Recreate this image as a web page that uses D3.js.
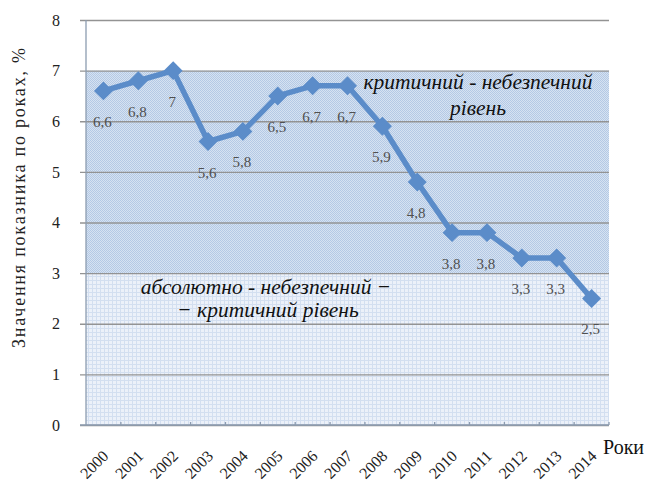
<!DOCTYPE html>
<html>
<head>
<meta charset="utf-8">
<script src="https://cdn.jsdelivr.net/npm/d3@7"></script>
<style>
  body { margin: 0; background: #fff; }
</style>
</head>
<body>
<script>
var years = ["2000", "2001", "2002", "2003", "2004", "2005", "2006", "2007",
             "2008", "2009", "2010", "2011", "2012", "2013", "2014"];
var values = [6.6, 6.8, 7, 5.6, 5.8, 6.5, 6.7, 6.7, 5.9, 4.8, 3.8, 3.8, 3.3, 3.3, 2.5];
var yTicks = [0, 1, 2, 3, 4, 5, 6, 7, 8];
// zones: [from, to]
var zoneCritical = [3, 7];
var zoneAbsolute = [0, 3];

var width = 658,
    height = 484;
var serif = '"Liberation Serif", "Times New Roman", serif';

var svg = d3.select('body')
    .append('svg')
    .attr('width', width)
    .attr('height', height)
    .attr('font-family', serif);

var plotLeft = 86, plotRight = 609, plotTop = 20, plotBottom = 425;

var x = d3.scaleBand()
    .domain(years)
    .range([plotLeft, plotRight]);

var y = d3.scaleLinear()
    .domain([0, 8])
    .range([plotBottom, plotTop]);

// fill patterns
var defs = svg.append('defs');
var p1 = defs.append('pattern')
    .attr('id', 'dots')
    .attr('width', 2).attr('height', 2)
    .attr('patternUnits', 'userSpaceOnUse');
p1.append('rect').attr('width', 2).attr('height', 2).attr('fill', '#d6e2f1');
p1.append('rect').attr('width', 1).attr('height', 1).attr('fill', '#b4c9e5');
p1.append('rect').attr('x', 1).attr('y', 1).attr('width', 1).attr('height', 1).attr('fill', '#b4c9e5');

var p2 = defs.append('pattern')
    .attr('id', 'grid')
    .attr('width', 4).attr('height', 4)
    .attr('patternUnits', 'userSpaceOnUse');
p2.append('rect').attr('width', 4).attr('height', 4).attr('fill', '#ecf1f9');
p2.append('rect').attr('width', 4).attr('height', 1).attr('fill', '#d3dff0');
p2.append('rect').attr('width', 1).attr('height', 4).attr('fill', '#d3dff0');

svg.append('rect')
    .attr('x', plotLeft).attr('y', y(zoneCritical[1]))
    .attr('width', plotRight - plotLeft)
    .attr('height', y(zoneCritical[0]) - y(zoneCritical[1]))
    .attr('fill', 'url(#dots)');

svg.append('rect')
    .attr('x', plotLeft).attr('y', y(zoneAbsolute[1]))
    .attr('width', plotRight - plotLeft)
    .attr('height', y(zoneAbsolute[0]) - y(zoneAbsolute[1]))
    .attr('fill', 'url(#grid)');

// gridlines + y axis
var yAxis = d3.axisLeft(y)
    .tickValues(yTicks)
    .tickSize(0)
    .tickPadding(26)
    .tickFormat(d3.format('d'));

var gy = svg.append('g')
    .attr('transform', 'translate(' + plotLeft + ',0)')
    .call(yAxis)
    .attr('font-family', serif);
gy.select('.domain').remove();
gy.selectAll('.tick line')
    .attr('x1', -6)
    .attr('x2', plotRight - plotLeft)
    .attr('stroke', '#939393')
    .attr('stroke-width', 1.3);
gy.selectAll('.tick text')
    .attr('font-size', 16)
    .attr('fill', '#222');

svg.append('line')
    .attr('x1', plotLeft).attr('x2', plotLeft)
    .attr('y1', plotTop).attr('y2', plotBottom)
    .attr('stroke', '#8c9cb0').attr('stroke-width', 1.3);

// x axis
var xAxis = d3.axisBottom(x).tickSize(0);
var gx = svg.append('g')
    .attr('transform', 'translate(0,' + plotBottom + ')')
    .call(xAxis)
    .attr('font-family', serif);
gx.select('.domain').attr('stroke', '#8c9cb0').attr('stroke-width', 1.3)
    .attr('d', 'M' + (plotLeft - 6) + ',0H' + plotRight);
gx.selectAll('.tick text')
    .attr('font-size', 16)
    .attr('fill', '#222')
    .attr('text-anchor', 'end')
    .attr('transform', 'translate(6,32) rotate(-45)')
    .attr('y', 0).attr('dy', 0);

// small boundary ticks on the x axis
svg.append('g').selectAll('line')
    .data(years)
    .enter()
    .append('line')
    .attr('x1', function (d) { return x(d) + x.bandwidth(); })
    .attr('x2', function (d) { return x(d) + x.bandwidth(); })
    .attr('y1', plotBottom).attr('y2', plotBottom - 3)
    .attr('stroke', '#8c9cb0').attr('stroke-width', 1.3);

// the series
var pts = years.map(function (d, i) { return [x(d) + x.bandwidth() / 2, y(values[i])]; });

svg.append('path')
    .datum(pts)
    .attr('d', d3.line())
    .attr('fill', 'none')
    .attr('stroke', '#5b8cc9')
    .attr('stroke-width', 5.5)
    .attr('stroke-linejoin', 'round');

svg.selectAll('.marker')
    .data(pts)
    .enter()
    .append('path')
    .attr('class', 'marker')
    .attr('d', d3.symbol(d3.symbolSquare, 180))
    .attr('transform', function (d) { return 'translate(' + d[0] + ',' + d[1] + ') rotate(45)'; })
    .attr('fill', '#5b8cc9');

svg.selectAll('.lbl')
    .data(values)
    .enter()
    .append('text')
    .attr('class', 'lbl')
    .attr('x', function (d, i) { return x(years[i]) + x.bandwidth() / 2 - 1; })
    .attr('y', function (d) { return y(d) + 36; })
    .attr('text-anchor', 'middle')
    .attr('font-size', 15)
    .attr('fill', '#505050')
    .text(function (d) { return String(d).replace('.', ','); });

// zone captions
var cap = svg.append('g')
    .attr('font-style', 'italic')
    .attr('font-size', 21.5)
    .attr('fill', '#111')
    .attr('text-anchor', 'middle');
cap.append('text').attr('x', 478).attr('y', 89).text('критичний - небезпечний');
cap.append('text').attr('x', 478).attr('y', 115).text('рівень');
cap.append('text').attr('x', 266).attr('y', 294).text('абсолютно - небезпечний −');
cap.append('text').attr('x', 268).attr('y', 317).text('− критичний рівень');

// axis titles
svg.append('text')
    .attr('transform', 'translate(25,198) rotate(-90)')
    .attr('text-anchor', 'middle')
    .attr('font-size', 18)
    .attr('textLength', 300)
    .attr('lengthAdjust', 'spacing')
    .attr('fill', '#222')
    .text('Значення показника по роках, %');

svg.append('text')
    .attr('x', 603).attr('y', 454)
    .attr('font-size', 20)
    .attr('fill', '#111')
    .text('Роки');
</script>
</body>
</html>
